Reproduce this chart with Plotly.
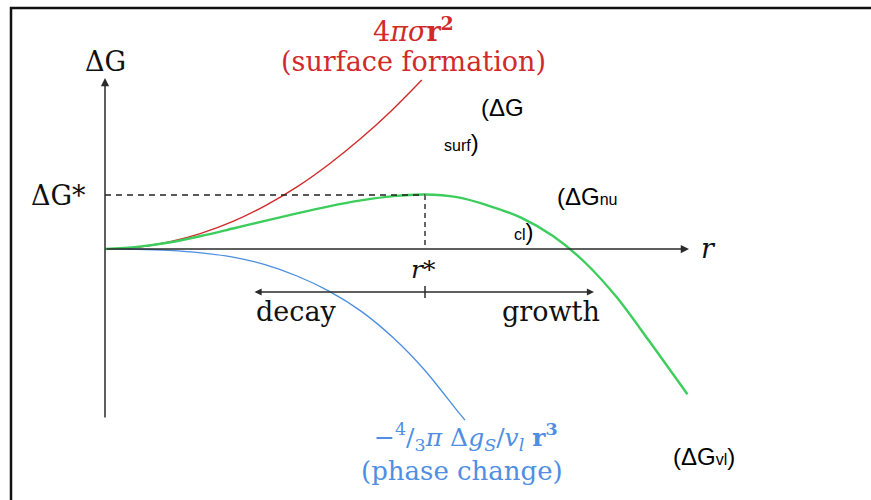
import plotly.graph_objects as go

# ---- data (r in units of r*, ΔG in units of ΔG*) ----
r_surf = [0, 0.1, 0.2, 0.3, 0.4, 0.5, 0.6, 0.7, 0.8, 0.9, 0.99]
g_surf = [0, 0.03, 0.13, 0.29, 0.51, 0.80, 1.15, 1.57, 2.05, 2.59, 3.13]

r_nucl = [0, 0.1, 0.2, 0.3, 0.4, 0.5, 0.6, 0.7, 0.8, 0.9, 1.0, 1.1, 1.2, 1.3, 1.4, 1.5, 1.6, 1.7, 1.82]
g_nucl = [0, 0.04, 0.12, 0.24, 0.38, 0.52, 0.66, 0.79, 0.90, 0.98, 1.01, 0.96, 0.80, 0.58, 0.24, -0.25, -0.90, -1.70, -2.69]

r_vol = [0, 0.1, 0.2, 0.3, 0.4, 0.5, 0.6, 0.7, 0.8, 0.9, 1.0, 1.1, 1.125]
g_vol = [0, -0.005, -0.025, -0.07, -0.15, -0.29, -0.50, -0.78, -1.15, -1.64, -2.25, -2.99, -3.17]

r_star = 1.0
g_star = 1.0

# ---- canvas mapping helpers (pixel -> data) ----
W, H = 871, 500
OX, OY, SX, SY = 105, 249, 320, 54
def X(p): return (p - OX) / SX
def Y(p): return (OY - p) / SY

RED = "#d12a2a"
GREEN = "#3ccd5c"
BLUE = "#4a8ee0"
BLUE_T = "#4f8fe3"
AX = "#2b2b2b"
SERIF = "DejaVu Serif"
SANS = "Liberation Sans, Arial"

fig = go.Figure()
fig.add_trace(go.Scatter(x=r_surf, y=g_surf, mode="lines", line=dict(color=RED, width=1.4, shape="spline", smoothing=0.8), hoverinfo="skip"))
fig.add_trace(go.Scatter(x=r_vol, y=g_vol, mode="lines", line=dict(color=BLUE, width=1.3, shape="spline", smoothing=0.8), hoverinfo="skip"))
fig.add_trace(go.Scatter(x=r_nucl, y=g_nucl, mode="lines", line=dict(color=GREEN, width=2.4, shape="spline", smoothing=0.8), hoverinfo="skip"))

shapes = [
    # frame
    dict(type="rect", xref="paper", yref="paper", x0=11/W, x1=1.05, y0=-0.05, y1=1-8/H,
         line=dict(color="#111", width=2.5)),
    # dashed ΔG* level
    dict(type="line", x0=0, x1=r_star, y0=g_star, y1=g_star, line=dict(color="#222", width=1.3, dash="6px,5px")),
    # dashed r* drop
    dict(type="line", x0=r_star, x1=r_star, y0=g_star, y1=0, line=dict(color="#666", width=2, dash="5px,4px")),
    # tick on decay/growth arrow
    dict(type="line", x0=r_star, x1=r_star, y0=Y(286), y1=Y(298), line=dict(color=AX, width=1.5)),
]

ann = []
def arrow(x, y, ax, ay, side="end", width=1.5):
    ann.append(dict(x=x, y=y, ax=ax, ay=ay, xref="x", yref="y", axref="x", ayref="y",
                    showarrow=True, arrowhead=2, arrowsize=1.1, arrowwidth=width,
                    arrowcolor=AX, arrowside=side, standoff=0, startstandoff=0, text=""))
# ΔG axis
arrow(0, Y(78), 0, Y(419))
# r axis
arrow(X(689), 0, 0, 0)
# decay / growth double arrow
arrow(X(594), Y(292), X(253), Y(292), side="end+start", width=1.3)

def txt(x, y, s, size, color="#111", family=SERIF):
    ann.append(dict(x=x, y=y, xref="x", yref="y", text=s, showarrow=False,
                    font=dict(size=size, color=color, family=family), xanchor="center", yanchor="middle"))

txt(X(105), Y(61), "ΔG", 27)
txt(X(58), Y(195), "ΔG*", 27)
txt(X(708), Y(248), "<i>r</i>", 27)
txt(X(423), Y(269), "<i>r</i>*", 25)
txt(X(296), Y(311), "decay", 27)
txt(X(551), Y(311), "growth", 27)

txt(X(413), Y(29), "4<i>πσ</i><b>r<sup>2</sup></b>", 27, RED)
txt(X(413), Y(61), "(surface formation)", 27, RED)

txt(X(466), Y(437), "−<sup>4</sup>/<sub>3</sub><i>π</i> Δ<i>g<sub>S</sub></i>/<i>v<sub>l</sub></i> <b>r<sup>3</sup></b>", 25, BLUE_T)
txt(X(462), Y(471), "(phase change)", 26, BLUE_T)

SM = "<span style='font-size:16px'>%s</span>"
txt(X(502), Y(107), "(ΔG", 24, "#000", SANS)
txt(X(461), Y(142), (SM % "surf") + ")", 24, "#000", SANS)
txt(X(587), Y(196), "(ΔG" + (SM % "nu"), 24, "#000", SANS)
txt(X(524), Y(231), (SM % "cl") + ")", 24, "#000", SANS)
txt(X(704), Y(456), "(ΔG" + (SM % "vl") + ")", 24, "#000", SANS)

fig.update_layout(
    width=W, height=H, margin=dict(l=0, r=0, t=0, b=0),
    paper_bgcolor="white", plot_bgcolor="white", showlegend=False,
    xaxis=dict(range=[X(0), X(W)], visible=False, fixedrange=True),
    yaxis=dict(range=[Y(H), Y(0)], visible=False, fixedrange=True),
    shapes=shapes, annotations=ann,
)
fig.write_html("out.html")
